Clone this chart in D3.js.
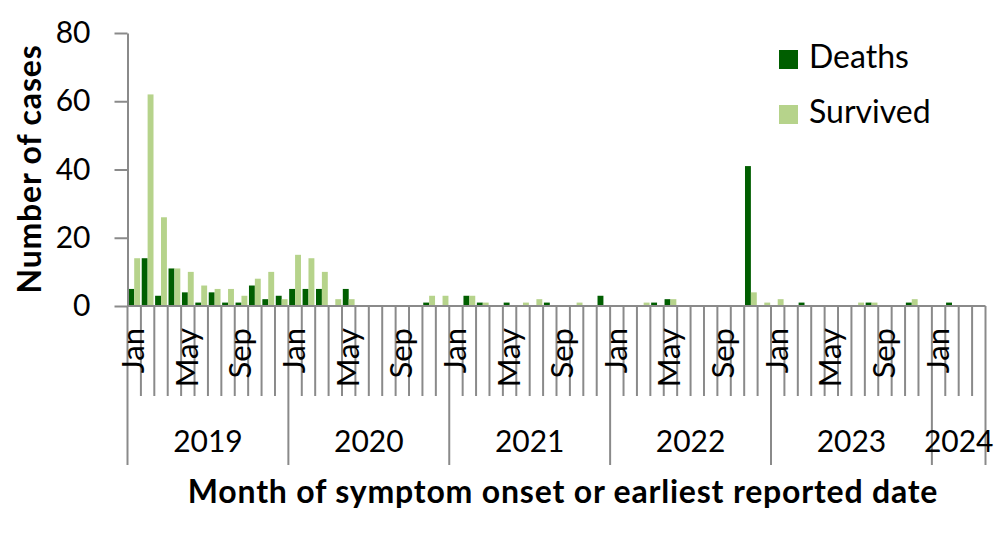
<!DOCTYPE html>
<html>
<head>
<meta charset="utf-8">
<script src="https://cdn.jsdelivr.net/npm/d3@7"></script>
<style>
  body { margin: 0; background: #fff; }
  text { font-family: Lato, "Open Sans", sans-serif; fill: #000; }
</style>
</head>
<body>
<div id="chart"></div>
<script>
// monthly counts, Jan 2019 .. Apr 2024
const deaths = [
  5, 14, 3, 11, 4, 1, 4, 1, 1, 6, 2, 3,
  5, 5, 5, 0, 5, 0, 0, 0, 0, 0, 1, 0,
  0, 3, 1, 0, 1, 0, 0, 1, 0, 0, 0, 3,
  0, 0, 0, 1, 2, 0, 0, 0, 0, 0, 41, 0,
  0, 0, 1, 0, 0, 0, 0, 1, 0, 0, 1, 0,
  0, 1, 0, 0
];
const survived = [
  14, 62, 26, 11, 10, 6, 5, 5, 3, 8, 10, 2,
  15, 14, 10, 2, 2, 0, 0, 0, 0, 0, 3, 3,
  0, 3, 1, 0, 0, 1, 2, 0, 0, 1, 0, 0,
  0, 0, 1, 0, 2, 0, 0, 0, 0, 0, 4, 1,
  2, 0, 0, 0, 0, 0, 1, 1, 0, 0, 2, 0,
  0, 0, 0, 0
];
const years = ["2019", "2020", "2021", "2022", "2023", "2024"];
const monthsInYear = [12, 12, 12, 12, 12, 4];
const monthLabels = ["Jan", "", "", "", "May", "", "", "", "Sep", "", "", ""];
const seriesNames = ["Deaths", "Survived"];
const yTicks = [0, 20, 40, 60, 80];

const colors = {Deaths: "#005e00", Survived: "#b6d38b"};
const axisColor = "#8a8a8a";

const width = 1000, height = 543;
const plotL = 127.5, plotR = 985.5, plotT = 33, plotB = 306;

const svg = d3.select("#chart").append("svg")
    .attr("width", width)
    .attr("height", height);

// build rows: one per month
const rows = [];
years.forEach((yr, yi) => {
  for (let m = 0; m < monthsInYear[yi]; m++) {
    const i = rows.length;
    rows.push({i: i, year: yr, label: monthLabels[m], Deaths: deaths[i], Survived: survived[i]});
  }
});

const pad = 0.12;
const x = d3.scaleBand()
    .domain(rows.map(d => d.i))
    .range([plotL, plotR])
    .paddingInner(pad)
    .paddingOuter(pad / 2);
const step = x.step();
const edge = i => x(i) - step * pad / 2;   // month boundary

const x1 = d3.scaleBand()
    .domain(seriesNames)
    .range([0, x.bandwidth()]);

const y = d3.scaleLinear()
    .domain([0, 80])
    .range([plotB, plotT]);

// bars
svg.append("g").selectAll("g")
  .data(rows)
  .join("g")
    .attr("transform", d => `translate(${x(d.i)},0)`)
  .selectAll("rect")
  .data(d => seriesNames.map(k => ({key: k, value: d[k]})))
  .join("rect")
    .attr("x", d => x1(d.key))
    .attr("width", x1.bandwidth())
    .attr("y", d => y(d.value))
    .attr("height", d => y(0) - y(d.value))
    .attr("fill", d => colors[d.key]);

// y axis
const yAxis = svg.append("g")
    .attr("transform", `translate(${plotL},0)`)
    .call(d3.axisLeft(y).tickValues(yTicks).tickSize(13).tickSizeOuter(0).tickPadding(24));
yAxis.select(".domain").attr("stroke", axisColor).attr("stroke-width", 2);
yAxis.selectAll(".tick line").attr("stroke", axisColor).attr("stroke-width", 2);
yAxis.selectAll(".tick text")
    .attr("font-family", "Lato, sans-serif")
    .attr("font-size", 30)
    .attr("fill", "#000");

// x axis baseline
svg.append("line")
    .attr("x1", plotL).attr("x2", plotR)
    .attr("y1", plotB).attr("y2", plotB)
    .attr("stroke", axisColor).attr("stroke-width", 2);

// month ticks
const yearStarts = [];
let acc = 0;
monthsInYear.forEach(n => { yearStarts.push(acc); acc += n; });

svg.append("g").selectAll("line")
  .data(d3.range(rows.length + 1))
  .join("line")
    .attr("x1", i => i < rows.length ? edge(i) : plotR)
    .attr("x2", i => i < rows.length ? edge(i) : plotR)
    .attr("y1", plotB)
    .attr("y2", i => (yearStarts.includes(i) || i === rows.length) ? 465 : 396)
    .attr("stroke", axisColor)
    .attr("stroke-width", 2);

// month labels
svg.append("g").selectAll("text")
  .data(rows.filter(d => d.label))
  .join("text")
    .attr("transform", d => `translate(${x(d.i) + x.bandwidth() / 2 + 10},328) rotate(-90)`)
    .attr("text-anchor", "end")
    .attr("font-size", 31)
    .text(d => d.label);

// year labels
svg.append("g").selectAll("text")
  .data(years)
  .join("text")
    .attr("x", (d, i) => (edge(yearStarts[i]) + (i < years.length - 1 ? edge(yearStarts[i + 1]) : plotR)) / 2)
    .attr("y", 452)
    .attr("text-anchor", "middle")
    .attr("font-size", 30)
    .text(d => d);

// axis titles
svg.append("text")
    .attr("x", 563)
    .attr("y", 503)
    .attr("text-anchor", "middle")
    .attr("font-size", 32)
    .attr("letter-spacing", 0.8)
    .attr("font-weight", "bold")
    .text("Month of symptom onset or earliest reported date");

svg.append("text")
    .attr("transform", "translate(41,169) rotate(-90)")
    .attr("text-anchor", "middle")
    .attr("font-size", 32)
    .attr("letter-spacing", 0.8)
    .attr("font-weight", "bold")
    .text("Number of cases");

// legend
const legend = svg.append("g").selectAll("g")
  .data(seriesNames)
  .join("g")
    .attr("transform", (d, i) => `translate(779,${50 + i * 55})`);
legend.append("rect")
    .attr("width", 19).attr("height", 19)
    .attr("fill", d => colors[d]);
legend.append("text")
    .attr("x", 30).attr("y", 18)
    .attr("font-size", 32)
    .text(d => d);
</script>
</body>
</html>
